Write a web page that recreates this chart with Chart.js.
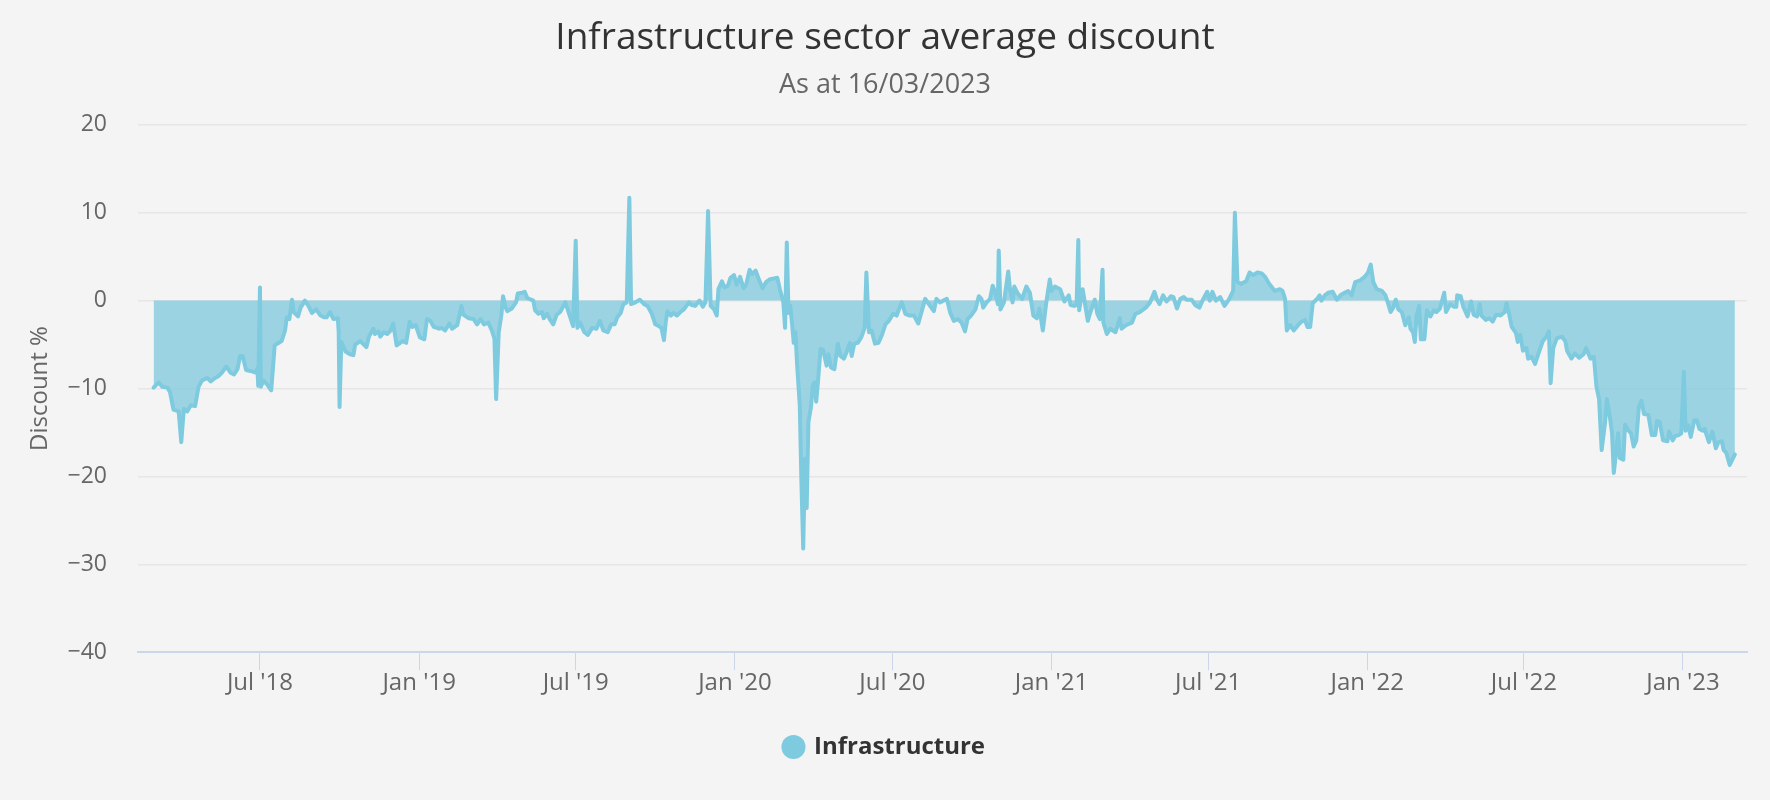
<!DOCTYPE html>
<html>
<head>
<meta charset="utf-8">
<title>Infrastructure sector average discount</title>
<script src="https://cdn.jsdelivr.net/npm/chart.js@4.4.1/dist/chart.umd.min.js"></script>
<style>
  html, body { margin: 0; padding: 0; background: #f4f4f4; }
  #wrap { width: 1770px; height: 800px; }
</style>
</head>
<body>
<div id="wrap"><canvas id="discount-chart" width="1770" height="800"></canvas></div>
<script>
// Sector average discount (%)
const dates = [
  // 2018
  '2018-02-28','2018-03-06','2018-03-10','2018-03-16','2018-03-19','2018-03-23','2018-03-29','2018-04-01','2018-04-04','2018-04-08',
  '2018-04-12','2018-04-17','2018-04-21','2018-04-25','2018-05-01','2018-05-05','2018-05-10','2018-05-14','2018-05-18','2018-05-23',
  '2018-05-28','2018-06-01','2018-06-05','2018-06-08','2018-06-11','2018-06-15','2018-06-20','2018-06-26','2018-06-28','2018-06-29',
  '2018-07-01','2018-07-02','2018-07-05','2018-07-09','2018-07-14','2018-07-18','2018-07-21','2018-07-26','2018-07-30','2018-08-01',
  '2018-08-04','2018-08-07','2018-08-09','2018-08-14','2018-08-17','2018-08-22','2018-08-26','2018-08-30','2018-09-04','2018-09-09',
  '2018-09-13','2018-09-16','2018-09-20','2018-09-24','2018-09-29','2018-09-30','2018-10-01','2018-10-03','2018-10-08','2018-10-13',
  '2018-10-17','2018-10-19','2018-10-25','2018-10-29','2018-11-01','2018-11-04','2018-11-09','2018-11-11','2018-11-15','2018-11-17',
  '2018-11-21','2018-11-25','2018-11-29','2018-12-02','2018-12-06','2018-12-09','2018-12-13','2018-12-17','2018-12-21','2018-12-24',
  '2018-12-28',
  // 2019
  '2019-01-02','2019-01-07','2019-01-10','2019-01-14','2019-01-18','2019-01-24','2019-01-27','2019-01-31','2019-02-05','2019-02-08',
  '2019-02-14','2019-02-19','2019-02-21','2019-02-27','2019-03-05','2019-03-09','2019-03-13','2019-03-17','2019-03-22','2019-03-26',
  '2019-03-29','2019-03-31','2019-04-03','2019-04-06','2019-04-08','2019-04-11','2019-04-13','2019-04-18','2019-04-23','2019-04-25',
  '2019-04-30','2019-05-03','2019-05-06','2019-05-13','2019-05-15','2019-05-19','2019-05-23','2019-05-25','2019-05-29','2019-06-01',
  '2019-06-05','2019-06-09','2019-06-13','2019-06-19','2019-06-23','2019-06-28','2019-07-01','2019-07-03','2019-07-06','2019-07-11',
  '2019-07-15','2019-07-20','2019-07-25','2019-07-29','2019-08-02','2019-08-07','2019-08-11','2019-08-15','2019-08-18','2019-08-22',
  '2019-08-25','2019-08-29','2019-09-01','2019-09-03','2019-09-08','2019-09-13','2019-09-18','2019-09-22','2019-09-27','2019-10-01',
  '2019-10-05','2019-10-08','2019-10-11','2019-10-13','2019-10-15','2019-10-19','2019-10-22','2019-10-26','2019-10-30','2019-11-03',
  '2019-11-09','2019-11-12','2019-11-16','2019-11-21','2019-11-25','2019-11-28','2019-12-01','2019-12-04','2019-12-08','2019-12-11',
  '2019-12-13','2019-12-17','2019-12-20','2019-12-24','2019-12-27','2019-12-31',
  // 2020
  '2020-01-03','2020-01-07','2020-01-11','2020-01-14','2020-01-18','2020-01-21','2020-01-25','2020-01-28','2020-02-02','2020-02-06',
  '2020-02-10','2020-02-14','2020-02-19','2020-02-22','2020-02-26','2020-02-28','2020-03-01','2020-03-03','2020-03-05','2020-03-07',
  '2020-03-09','2020-03-11','2020-03-13','2020-03-16','2020-03-18','2020-03-20','2020-03-22','2020-03-24','2020-03-26','2020-03-29',
  '2020-03-31','2020-04-02','2020-04-04','2020-04-06','2020-04-09','2020-04-12','2020-04-16','2020-04-18','2020-04-21','2020-04-25',
  '2020-04-29','2020-05-02','2020-05-06','2020-05-09','2020-05-13','2020-05-15','2020-05-18','2020-05-22','2020-05-26','2020-05-30',
  '2020-06-01','2020-06-04','2020-06-07','2020-06-11','2020-06-15','2020-06-19','2020-06-23','2020-06-27','2020-07-02','2020-07-06',
  '2020-07-09','2020-07-12','2020-07-16','2020-07-21','2020-07-26','2020-07-31','2020-08-04','2020-08-08','2020-08-13','2020-08-18',
  '2020-08-21','2020-08-25','2020-08-29','2020-09-02','2020-09-06','2020-09-10','2020-09-15','2020-09-19','2020-09-23','2020-09-26',
  '2020-09-30','2020-10-05','2020-10-09','2020-10-12','2020-10-14','2020-10-18','2020-10-22','2020-10-25','2020-10-28','2020-10-31',
  '2020-11-01','2020-11-03','2020-11-07','2020-11-12','2020-11-14','2020-11-17','2020-11-19','2020-11-23','2020-11-28','2020-12-03',
  '2020-12-07','2020-12-11','2020-12-15','2020-12-18','2020-12-22','2020-12-26','2020-12-30',
  // 2021
  '2021-01-01','2021-01-05','2021-01-11','2021-01-16','2021-01-21','2021-01-23','2021-01-27','2021-01-30','2021-02-01','2021-02-02',
  '2021-02-06','2021-02-12','2021-02-15','2021-02-20','2021-02-23','2021-02-26','2021-03-01','2021-03-02','2021-03-06','2021-03-10',
  '2021-03-16','2021-03-21','2021-03-23','2021-03-28','2021-04-04','2021-04-08','2021-04-13','2021-04-20','2021-04-25','2021-04-30',
  '2021-05-03','2021-05-06','2021-05-10','2021-05-14','2021-05-19','2021-05-22','2021-05-26','2021-05-30','2021-06-03','2021-06-06',
  '2021-06-12','2021-06-16','2021-06-21','2021-06-25','2021-06-30','2021-07-03','2021-07-06','2021-07-10','2021-07-15','2021-07-20',
  '2021-07-25','2021-07-30','2021-08-01','2021-08-04','2021-08-08','2021-08-14','2021-08-18','2021-08-22','2021-08-27','2021-09-01',
  '2021-09-05','2021-09-09','2021-09-13','2021-09-16','2021-09-22','2021-09-25','2021-09-28','2021-09-30','2021-10-04','2021-10-08',
  '2021-10-13','2021-10-17','2021-10-21','2021-10-24','2021-10-27','2021-10-30','2021-11-04','2021-11-07','2021-11-09','2021-11-13',
  '2021-11-17','2021-11-22','2021-11-27','2021-12-01','2021-12-06','2021-12-10','2021-12-14','2021-12-18','2021-12-24','2021-12-29',
  // 2022
  '2022-01-02','2022-01-05','2022-01-08','2022-01-12','2022-01-18','2022-01-22','2022-01-25','2022-01-28','2022-01-31','2022-02-03',
  '2022-02-06','2022-02-10','2022-02-14','2022-02-18','2022-02-20','2022-02-23','2022-02-25','2022-02-27','2022-03-02','2022-03-04',
  '2022-03-08','2022-03-11','2022-03-15','2022-03-19','2022-03-22','2022-03-26','2022-03-31','2022-04-02','2022-04-07','2022-04-11',
  '2022-04-14','2022-04-15','2022-04-19','2022-04-22','2022-04-27','2022-05-01','2022-05-04','2022-05-08','2022-05-11','2022-05-13',
  '2022-05-18','2022-05-22','2022-05-26','2022-05-30','2022-06-04','2022-06-09','2022-06-11','2022-06-14','2022-06-17','2022-06-22',
  '2022-06-24','2022-06-27','2022-06-30','2022-07-04','2022-07-06','2022-07-10','2022-07-14','2022-07-18','2022-07-23','2022-07-27',
  '2022-07-30','2022-08-01','2022-08-04','2022-08-08','2022-08-14','2022-08-18','2022-08-20','2022-08-25','2022-08-29','2022-09-03',
  '2022-09-08','2022-09-11','2022-09-16','2022-09-20','2022-09-23','2022-09-26','2022-09-29','2022-10-03','2022-10-05','2022-10-08',
  '2022-10-11','2022-10-13','2022-10-16','2022-10-18','2022-10-20','2022-10-24','2022-10-26','2022-10-30','2022-11-02','2022-11-05',
  '2022-11-08','2022-11-11','2022-11-14','2022-11-17','2022-11-22','2022-11-26','2022-11-30','2022-12-02','2022-12-05','2022-12-09',
  '2022-12-14','2022-12-16','2022-12-20','2022-12-23','2022-12-27','2022-12-30',
  // 2023
  '2023-01-02','2023-01-04','2023-01-07','2023-01-10','2023-01-14','2023-01-17','2023-01-20','2023-01-24','2023-01-26','2023-01-31',
  '2023-02-04','2023-02-08','2023-02-11','2023-02-15','2023-02-17','2023-02-20','2023-02-24','2023-02-26','2023-03-02'
];

const discount = [
  // 2018
  -9.9, -9.3, -9.8, -9.9, -10.4, -12.4, -12.6, -16.1, -12.3, -12.6,
  -11.9, -12.0, -9.8, -9.1, -8.8, -9.2, -8.8, -8.6, -8.2, -7.5,
  -8.2, -8.4, -7.8, -6.3, -6.3, -7.9, -8.0, -8.2, -7.7, -9.7,
  1.5, -9.8, -9.1, -9.5, -10.2, -5.1, -4.9, -4.6, -3.4, -1.9,
  -2.1, 0.1, -1.3, -1.8, -0.8, 0.0, -0.6, -1.4, -1.0, -1.7,
  -1.9, -1.9, -1.3, -2.1, -2.0, -3.6, -12.1, -4.7, -5.8, -6.1,
  -6.2, -5.0, -4.6, -5.0, -5.3, -4.1, -3.2, -3.8, -3.5, -4.1,
  -3.6, -3.8, -3.4, -2.6, -5.1, -4.9, -4.6, -4.8, -2.4, -3.0,
  -2.8,
  // 2019
  -4.2, -4.4, -2.1, -2.3, -3.0, -3.2, -3.1, -3.4, -2.6, -3.2,
  -2.8, -0.6, -1.6, -2.0, -2.1, -2.7, -2.1, -2.7, -2.5, -3.4,
  -4.3, -11.2, -3.6, -1.7, 0.5, -0.8, -1.2, -0.9, -0.2, 0.8,
  0.9, 1.0, 0.3, 0.0, -1.1, -1.5, -1.3, -2.0, -1.5, -2.1,
  -2.7, -1.6, -1.3, -0.2, -1.4, -2.9, 6.8, -3.1, -2.5, -3.6,
  -3.9, -3.1, -3.2, -2.3, -3.4, -3.6, -2.7, -2.7, -1.9, -1.4,
  -0.4, -0.2, 11.7, -0.4, -0.2, 0.1, -0.4, -0.6, -1.5, -2.7,
  -2.9, -3.1, -4.5, -2.5, -1.2, -1.7, -1.4, -1.7, -1.3, -1.0,
  -0.2, -0.5, -0.6, 0.0, -0.7, -0.2, 10.2, -0.6, -1.0, -1.7,
  1.3, 2.2, 1.5, 1.7, 2.6, 2.9,
  // 2020
  1.8, 2.7, 1.4, 1.8, 3.5, 3.0, 3.4, 2.6, 1.4, 2.1,
  2.4, 2.5, 2.6, 1.3, -0.2, -3.1, 6.6, -1.4, -0.6, -2.5,
  -4.8, -3.6, -7.4, -11.9, -21.0, -28.2, -18.0, -23.6, -13.8, -12.1,
  -9.7, -9.3, -11.5, -9.3, -5.5, -5.6, -7.4, -6.1, -7.6, -7.8,
  -4.9, -6.3, -6.6, -5.9, -4.8, -6.3, -4.9, -4.8, -4.2, -3.1,
  3.2, -3.6, -3.4, -4.9, -4.8, -3.9, -2.7, -2.3, -1.5, -1.7,
  -0.9, -0.2, -1.5, -1.7, -1.7, -2.6, -1.2, 0.2, -0.5, -1.2,
  0.2, -0.2, 0.0, 0.2, -1.4, -2.3, -2.1, -2.5, -3.5, -2.1,
  -1.7, -1.0, 0.5, 0.2, -0.8, -0.2, 0.2, 1.7, 0.9, -0.4,
  5.7, -1.0, -0.2, 3.3, 1.3, -0.2, 1.6, 0.8, 0.2, 1.6,
  0.9, -1.7, -2.0, -0.9, -3.4, -0.2, 2.4,
  // 2021
  1.1, 1.6, 1.3, -0.1, 0.6, -0.5, -0.6, -0.5, 6.9, -1.1,
  1.3, -2.3, -1.3, 0.1, -1.5, -2.1, 3.5, -2.5, -3.8, -3.2,
  -3.6, -2.0, -3.2, -2.8, -2.5, -1.5, -1.3, -0.8, -0.2, 1.0,
  0.1, -0.4, 0.6, -0.1, 0.5, 0.4, -0.9, 0.2, 0.4, 0.1,
  0.1, -0.5, -0.8, 0.1, 1.0, 0.0, 1.0, 0.0, 0.4, -0.6,
  0.1, 1.1, 10.0, 2.1, 1.9, 2.2, 3.2, 2.9, 3.2, 3.1,
  2.7, 2.0, 1.5, 1.1, 1.3, 1.1, 0.2, -3.4, -2.8, -3.4,
  -2.8, -2.4, -2.2, -3.0, -3.0, -0.3, 0.2, 0.6, 0.0, 0.6,
  0.9, 1.0, 0.1, 0.6, 0.9, 1.1, 0.6, 2.1, 2.3, 2.7,
  // 2022
  3.2, 4.1, 2.1, 1.3, 1.1, 0.6, -0.3, -1.3, -0.8, 0.1,
  -1.0, -1.3, -2.8, -1.9, -3.2, -3.6, -4.7, -1.7, -0.6, -4.4,
  -4.4, -1.1, -1.8, -1.1, -1.3, -0.9, 0.9, -1.3, -0.4, -0.7,
  -0.7, 0.6, 0.5, -0.7, -1.8, -0.1, -1.6, -1.8, -0.4, -1.7,
  -2.2, -2.0, -2.4, -1.6, -1.7, -1.3, -0.3, -1.5, -3.0, -3.7,
  -4.7, -3.9, -5.7, -5.4, -6.6, -6.4, -7.2, -6.0, -4.6, -4.1,
  -3.5, -9.4, -5.4, -4.3, -4.1, -4.6, -5.7, -6.6, -6.0, -6.5,
  -6.1, -5.4, -6.6, -6.4, -9.8, -11.2, -17.0, -13.8, -11.2, -12.9,
  -15.1, -19.6, -17.0, -15.1, -17.9, -18.1, -14.1, -14.8, -15.1, -16.6,
  -15.9, -12.1, -11.4, -12.9, -13.0, -15.3, -15.3, -13.7, -13.8, -15.9,
  -16.0, -14.9, -15.9, -15.4, -15.3, -15.1,
  // 2023
  -8.1, -14.8, -14.2, -15.5, -13.6, -13.6, -14.6, -14.8, -14.6, -16.1,
  -14.9, -16.8, -16.1, -16.0, -17.0, -17.3, -18.7, -18.3, -17.5
];

const tickDates = ['2018-07-01', '2019-01-01', '2019-07-01', '2020-01-01', '2020-07-01',
                   '2021-01-01', '2021-07-01', '2022-01-01', '2022-07-01', '2023-01-01'];
const tickLabels = ["Jul '18", "Jan '19", "Jul '19", "Jan '20", "Jul '20",
                    "Jan '21", "Jul '21", "Jan '22", "Jul '22", "Jan '23"];
const axisStart = '2018-02-10';
const axisEnd = '2023-03-16';

const FONT = '"Open Sans", "DejaVu Sans", sans-serif';
const lineColor = '#7ecadf';

function toDay(s) {
  const [y, m, d] = s.split('-').map(Number);
  return Date.UTC(y, m - 1, d) / 86400000;
}

const points = dates.map((d, i) => ({ x: toDay(d), y: discount[i] }));

const ctx = document.getElementById('discount-chart').getContext('2d');
new Chart(ctx, {
  type: 'line',
  data: {
    datasets: [{
      label: 'Infrastructure',
      data: points,
      borderColor: lineColor,
      backgroundColor: 'rgba(126, 200, 222, 0.75)',
      borderWidth: 4,
      borderJoinStyle: 'round',
      borderCapStyle: 'round',
      pointRadius: 0,
      pointHoverRadius: 0,
      fill: 'origin',
      tension: 0
    }]
  },
  options: {
    responsive: false,
    animation: false,
    devicePixelRatio: 1,
    layout: { padding: { left: 23, right: 23, top: 0, bottom: 31 } },
    scales: {
      x: {
        type: 'linear',
        min: toDay(axisStart),
        max: toDay(axisEnd),
        afterBuildTicks: scale => {
          scale.ticks = tickDates.map(d => ({ value: toDay(d) }));
        },
        afterFit: scale => { scale.height += 18; },
        ticks: {
          autoSkip: false,
          maxRotation: 0,
          padding: -1,
          color: '#666',
          font: { family: FONT, size: 24 },
          callback: (value, index) => tickLabels[index]
        },
        grid: {
          drawOnChartArea: false,
          drawTicks: true,
          tickLength: 18,
          tickWidth: 1,
          tickColor: '#ccd6eb'
        },
        border: { color: '#ccd6eb', width: 2 }
      },
      y: {
        min: -40,
        max: 20,
        ticks: {
          stepSize: 10,
          padding: 31,
          color: '#666',
          font: { family: FONT, size: 23 },
          callback: v => (v < 0 ? '\u2212' + Math.abs(v) : String(v))
        },
        grid: { color: '#e6e6e6', lineWidth: 1.5, drawTicks: false },
        border: { display: false },
        title: {
          display: true,
          text: 'Discount %',
          color: '#666',
          font: { family: FONT, size: 24 },
          padding: { top: 3, bottom: 0 }
        },
        afterFit: scale => { scale.width = 115; }
      }
    },
    plugins: {
      title: {
        display: true,
        text: 'Infrastructure sector average discount',
        color: '#333',
        font: { family: FONT, size: 37, weight: 'normal' },
        padding: { top: 16, bottom: 8 }
      },
      subtitle: {
        display: true,
        text: 'As at 16/03/2023',
        color: '#666',
        font: { family: FONT, size: 27 },
        padding: { top: 1, bottom: 23 }
      },
      legend: {
        position: 'bottom',
        labels: {
          usePointStyle: true,
          pointStyle: 'circle',
          boxWidth: 17,
          boxHeight: 17,
          padding: 20,
          color: '#333',
          font: { family: FONT, size: 24, weight: 'bold' },
          generateLabels: chart =>
            Chart.defaults.plugins.legend.labels.generateLabels(chart).map(item =>
              Object.assign(item, { fillStyle: lineColor, strokeStyle: lineColor, lineWidth: 0 }))
        }
      },
      tooltip: { enabled: false }
    }
  }
});
</script>
</body>
</html>
